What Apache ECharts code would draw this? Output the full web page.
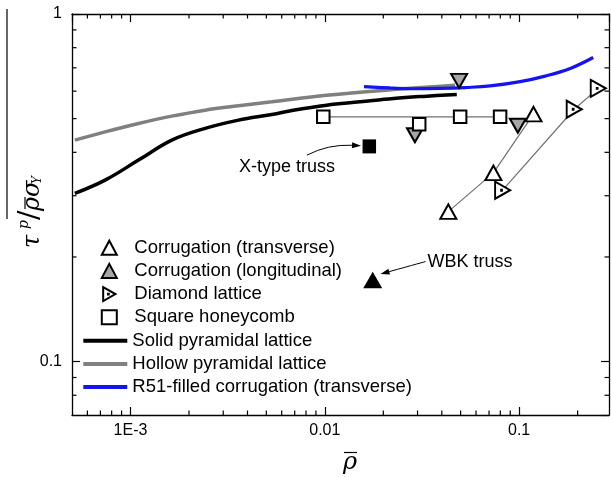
<!DOCTYPE html>
<html>
<head>
<meta charset="utf-8">
<script src="https://cdn.jsdelivr.net/npm/echarts@6/dist/echarts.min.js"></script>
<style>
  html, body { margin: 0; padding: 0; background: #fff; }
  #chart { width: 611px; height: 477px; }
</style>
</head>
<body>
<div id="chart"></div>
<script>
// Axis ranges and tick labels (log-log)
const xMin = 5e-4, xMax = 0.29;
const yMin = 0.0702, yMax = 1;
const xTickValues = [0.001, 0.01, 0.1];
const xTickLabels = ['1E-3', '0.01', '0.1'];
const yTickValues = [0.1, 1];
const yTickLabels = ['0.1', '1'];
const xMinorTicks = [6e-4, 7e-4, 8e-4, 9e-4,
  0.002, 0.003, 0.004, 0.005, 0.006, 0.007, 0.008, 0.009,
  0.02, 0.03, 0.04, 0.05, 0.06, 0.07, 0.08, 0.09, 0.2];
const yMinorTicks = [0.08, 0.09, 0.2, 0.3, 0.4, 0.5, 0.6, 0.7, 0.8, 0.9];

// Measured cores: relative density vs. normalised shear strength
const corrTransRho = [0.0432, 0.0737, 0.1185];
const corrTransTau = [0.270, 0.349, 0.515];
const corrLongRho = [0.0291, 0.0491, 0.0985];
const corrLongTau = [0.448, 0.642, 0.477];
const diamondRho = [0.0822, 0.192, 0.2553];
const diamondTau = [0.3113, 0.532, 0.611];
const squareRho = [0.00982, 0.0306, 0.0497, 0.0798];
const squareTau = [0.506, 0.482, 0.506, 0.506];
const squareLinked = [0, 2, 3];
const xTrussRho = [0.01694];
const xTrussTau = [0.416];
const wbkRho = [0.01764];
const wbkTau = [0.1716];

// Model predictions
const solidRho = [5.17e-4, 7.40e-4, 1.100e-3, 1.632e-3, 2.423e-3, 3.599e-3, 5.342e-3, 6.88e-3, 0.01022, 0.01517, 0.02253, 0.03346, 0.04776];
const solidTau = [0.3047, 0.3327, 0.3799, 0.4336, 0.4687, 0.4951, 0.5141, 0.5289, 0.5467, 0.5588, 0.5715, 0.5803, 0.5868];
const hollowRho = [5.17e-4, 7.40e-4, 1.100e-3, 1.632e-3, 2.423e-3, 3.599e-3, 5.342e-3, 0.01022, 0.02253, 0.04682];
const hollowTau = [0.4336, 0.4581, 0.4843, 0.5083, 0.5289, 0.5442, 0.5588, 0.5839, 0.6064, 0.6240];
const r51Rho = [0.01591, 0.02166, 0.02844, 0.03918, 0.05270, 0.07088, 0.1012, 0.1361, 0.1831, 0.2405];
const r51Tau = [0.618, 0.6127, 0.6094, 0.6107, 0.6144, 0.6209, 0.6389, 0.6627, 0.6971, 0.7497];

// Callouts: label anchor, arrow start, arrow control, arrow tip
const calloutText = ['X-type truss', 'WBK truss'];
const calloutLabelRho = [0.003612, 0.03378];
const calloutLabelTau = [0.3635, 0.194];
const arrowFromRho = [0.00809, 0.03299];
const arrowFromTau = [0.3926, 0.194];
const arrowCtrlRho = [0.01038, 0.03299];
const arrowCtrlTau = [0.4222, 0.194];
const arrowToRho = [0.01535, 0.01935];
const arrowToTau = [0.418, 0.1786];

const markerLegend = ['Corrugation (transverse)', 'Corrugation (longitudinal)', 'Diamond lattice', 'Square honeycomb'];
const lineLegend = ['Solid pyramidal lattice', 'Hollow pyramidal lattice', 'R51-filled corrugation (transverse)'];

const zip = (xs, ys) => xs.map((x, i) => [x, ys[i]]);
const pick = (xs, ys, idx) => idx.map(i => [xs[i], ys[i]]);

const FONT = 'Liberation Sans';
const diamondSymbol = 'path://M0,0 L14,8 L0,16 Z M5.6,7.6 L6.4,7.6 L6.4,8.4 L5.6,8.4 Z';

function tickFormatter(values, labels) {
  return function (v) {
    for (let i = 0; i < values.length; i++) {
      if (Math.abs(Math.log10(v) - Math.log10(values[i])) < 1e-6) return labels[i];
    }
    return '';
  };
}

const frameLine = { show: true, onZero: false, lineStyle: { color: '#000', width: 1.3 } };
const majorTick = { show: true, inside: true, length: 8, lineStyle: { color: '#000', width: 1.2 } };
const minorLen = 4.5;

function minorTickLine(x1, y1, x2, y2) {
  return { type: 'line', shape: { x1, y1, x2, y2 }, style: { stroke: '#000', lineWidth: 1.2 } };
}

const chart = echarts.init(document.getElementById('chart'), null, { renderer: 'canvas' });

chart.setOption({
  animation: false,
  backgroundColor: '#fff',
  grid: { left: 72, right: 2, top: 14, bottom: 62, containLabel: false, outerBoundsMode: 'none' },
  xAxis: [
    {
      type: 'log', logBase: 10, min: xMin, max: xMax, position: 'bottom',
      axisLine: frameLine, axisTick: majorTick, splitLine: { show: false }, minorTick: { show: false },
      axisLabel: {
        formatter: tickFormatter(xTickValues, xTickLabels), color: '#000',
        fontSize: 16, fontFamily: FONT, margin: 8, showMinLabel: false, showMaxLabel: false
      }
    },
    {
      type: 'log', logBase: 10, min: xMin, max: xMax, position: 'top',
      axisLine: frameLine, axisTick: majorTick, splitLine: { show: false }, axisLabel: { show: false }
    }
  ],
  yAxis: [
    {
      type: 'log', logBase: 10, min: yMin, max: yMax, position: 'left',
      axisLine: frameLine, axisTick: majorTick, splitLine: { show: false }, minorTick: { show: false },
      axisLabel: {
        formatter: tickFormatter(yTickValues, yTickLabels), color: '#000',
        fontSize: 16, fontFamily: FONT, margin: 10, showMinLabel: false, showMaxLabel: true
      }
    },
    {
      type: 'log', logBase: 10, min: yMin, max: yMax, position: 'right',
      axisLine: frameLine, axisTick: majorTick, splitLine: { show: false }, axisLabel: { show: false }
    }
  ],
  legend: [
    {
      orient: 'vertical', left: 100.8, top: 236.1, padding: 0, itemGap: 0,
      itemWidth: 15, itemHeight: 14, selectedMode: false,
      itemStyle: { borderWidth: 2 },
      textStyle: { fontSize: 18.5, fontFamily: FONT, color: '#000', lineHeight: 23.2, padding: [0, 0, 0, 12.5] },
      data: markerLegend
    },
    {
      orient: 'vertical', left: 83.3, top: 329.1, padding: 0, itemGap: 0,
      itemWidth: 44, itemHeight: 4, selectedMode: false,
      itemStyle: { borderWidth: 0 },
      textStyle: { fontSize: 18.5, fontFamily: FONT, color: '#000', lineHeight: 23.2 },
      data: lineLegend.map(name => ({ name, icon: 'rect' }))
    }
  ],
  graphic: [
    // y-axis title: tau^p / (rho-bar sigma_Y), read bottom to top
    { type: 'line', shape: { x1: 7, y1: 9, x2: 7, y2: 219 }, style: { stroke: '#000', lineWidth: 1.2 } },
    {
      type: 'group', x: 33, y: 248, rotation: Math.PI / 2,
      children: [
        { type: 'text', x: 0, y: 0, style: { text: 'τ', fontSize: 24, fontStyle: 'italic', fontFamily: 'DejaVu Serif', fill: '#000', align: 'left', verticalAlign: 'middle' } },
        { type: 'text', x: 19, y: -9, style: { text: 'p', fontSize: 14, fontStyle: 'italic', fontFamily: 'DejaVu Serif', fill: '#000', align: 'left', verticalAlign: 'middle' } },
        { type: 'text', x: 28, y: -2, style: { text: '/', fontSize: 28, fontFamily: 'DejaVu Serif', fill: '#000', align: 'left', verticalAlign: 'middle' } },
        { type: 'text', x: 37, y: 0, style: { text: 'ρ', fontSize: 24, fontStyle: 'italic', fontFamily: 'DejaVu Serif', fill: '#000', align: 'left', verticalAlign: 'middle' } },
        { type: 'line', shape: { x1: 39, y1: -8, x2: 51, y2: -8 }, style: { stroke: '#000', lineWidth: 1.2 } },
        { type: 'text', x: 51, y: 0, style: { text: 'σ', fontSize: 24, fontStyle: 'italic', fontFamily: 'DejaVu Serif', fill: '#000', align: 'left', verticalAlign: 'middle' } },
        { type: 'text', x: 64, y: 5, style: { text: 'Y', fontSize: 12, fontStyle: 'italic', fontFamily: 'DejaVu Serif', fill: '#000', align: 'left', verticalAlign: 'middle' } }
      ]
    },
    // x-axis title: rho-bar
    { type: 'text', x: 350, y: 463, style: { text: 'ρ', fontSize: 24, fontStyle: 'italic', fontFamily: 'DejaVu Serif', fill: '#000', align: 'center', verticalAlign: 'middle' } },
    { type: 'line', shape: { x1: 344, y1: 452.5, x2: 357, y2: 452.5 }, style: { stroke: '#000', lineWidth: 1.2 } }
  ],
  series: [
    // minor ticks along bottom and top edges
    {
      type: 'custom', name: 'x minor ticks', silent: true, clip: false, z: 10,
      data: xMinorTicks.map(v => [v, yMin]),
      renderItem(params, api) {
        const b = api.coord([api.value(0), yMin]);
        const t = api.coord([api.value(0), yMax]);
        return { type: 'group', children: [
          minorTickLine(b[0], b[1], b[0], b[1] - minorLen),
          minorTickLine(t[0], t[1], t[0], t[1] + minorLen)
        ] };
      }
    },
    // minor ticks along left and right edges
    {
      type: 'custom', name: 'y minor ticks', silent: true, clip: false, z: 10,
      data: yMinorTicks.map(v => [xMin, v]),
      renderItem(params, api) {
        const l = api.coord([xMin, api.value(1)]);
        const r = api.coord([xMax, api.value(1)]);
        return { type: 'group', children: [
          minorTickLine(l[0], l[1], l[0] + minorLen, l[1]),
          minorTickLine(r[0], r[1], r[0] - minorLen, r[1])
        ] };
      }
    },
    {
      type: 'line', name: lineLegend[1], data: zip(hollowRho, hollowTau), symbol: 'none', smooth: 0.4,
      itemStyle: { color: '#808080' }, lineStyle: { color: '#808080', width: 3.5 }, z: 2
    },
    {
      type: 'line', name: lineLegend[0], data: zip(solidRho, solidTau), symbol: 'none', smooth: 0.4,
      itemStyle: { color: '#000' }, lineStyle: { color: '#000', width: 3.5 }, z: 2
    },
    {
      type: 'line', name: lineLegend[2], data: zip(r51Rho, r51Tau), symbol: 'none', smooth: 0.4,
      itemStyle: { color: '#1414f0' }, lineStyle: { color: '#1414f0', width: 3.2 }, z: 2
    },
    // thin connectors between related specimens
    {
      type: 'line', name: 'transverse link', data: zip(corrTransRho, corrTransTau), symbol: 'none', silent: true,
      lineStyle: { color: '#707070', width: 1.2 }, z: 3
    },
    {
      type: 'line', name: 'diamond link', data: zip(diamondRho, diamondTau), symbol: 'none', silent: true,
      lineStyle: { color: '#707070', width: 1.2 }, z: 3
    },
    {
      type: 'line', name: 'square link', data: pick(squareRho, squareTau, squareLinked), symbol: 'none', silent: true,
      lineStyle: { color: '#707070', width: 1.2 }, z: 3
    },
    {
      type: 'scatter', name: markerLegend[0], data: zip(corrTransRho, corrTransTau),
      symbol: 'triangle', symbolSize: [16, 14.5],
      itemStyle: { color: '#fff', borderColor: '#000', borderWidth: 2, opacity: 1 }, z: 5
    },
    {
      type: 'scatter', name: markerLegend[1], data: zip(corrLongRho, corrLongTau),
      symbol: 'triangle', symbolRotate: 180, symbolSize: [16, 14],
      itemStyle: { color: '#a6a6a6', borderColor: '#000', borderWidth: 2, opacity: 1 }, z: 5
    },
    {
      type: 'scatter', name: markerLegend[2], data: zip(diamondRho, diamondTau),
      symbol: diamondSymbol, symbolSize: [15, 17], symbolKeepAspect: false,
      itemStyle: { color: '#fff', borderColor: '#000', borderWidth: 2, opacity: 1 }, z: 5
    },
    {
      type: 'scatter', name: markerLegend[3], data: zip(squareRho, squareTau),
      symbol: 'rect', symbolSize: 12.5,
      itemStyle: { color: '#fff', borderColor: '#000', borderWidth: 2, opacity: 1 }, z: 5
    },
    {
      type: 'scatter', name: 'X-type truss', data: zip(xTrussRho, xTrussTau),
      symbol: 'rect', symbolSize: [13.5, 14],
      itemStyle: { color: '#000', opacity: 1 }, z: 5
    },
    {
      type: 'scatter', name: 'WBK truss', data: zip(wbkRho, wbkTau),
      symbol: 'triangle', symbolSize: [19, 16.5],
      itemStyle: { color: '#000', opacity: 1 }, z: 5
    },
    // callout labels with arrows
    {
      type: 'custom', name: 'callouts', silent: true, clip: false, z: 6,
      data: calloutText.map((t, i) => [calloutLabelRho[i], calloutLabelTau[i],
        arrowFromRho[i], arrowFromTau[i], arrowCtrlRho[i], arrowCtrlTau[i], arrowToRho[i], arrowToTau[i]]),
      renderItem(params, api) {
        const lab = api.coord([api.value(0), api.value(1)]);
        const p0 = api.coord([api.value(2), api.value(3)]);
        const c = api.coord([api.value(4), api.value(5)]);
        const p2 = api.coord([api.value(6), api.value(7)]);
        let dx = p2[0] - c[0], dy = p2[1] - c[1];
        const len = Math.hypot(dx, dy) || 1;
        dx /= len; dy /= len;
        const L = 9, W = 3;
        const bx = p2[0] - dx * L, by = p2[1] - dy * L;
        return { type: 'group', children: [
          { type: 'text', x: lab[0], y: lab[1], style: {
            text: calloutText[params.dataIndex], fontSize: 18, fontFamily: FONT, fill: '#000',
            align: 'left', verticalAlign: 'middle' } },
          { type: 'bezierCurve', shape: { x1: p0[0], y1: p0[1], cpx1: c[0], cpy1: c[1], x2: bx, y2: by },
            style: { stroke: '#000', lineWidth: 1, fill: null } },
          { type: 'polygon', shape: { points: [[p2[0], p2[1]], [bx - dy * W, by + dx * W], [bx + dy * W, by - dx * W]] },
            style: { fill: '#000' } }
        ] };
      }
    }
  ]
});
</script>
</body>
</html>
